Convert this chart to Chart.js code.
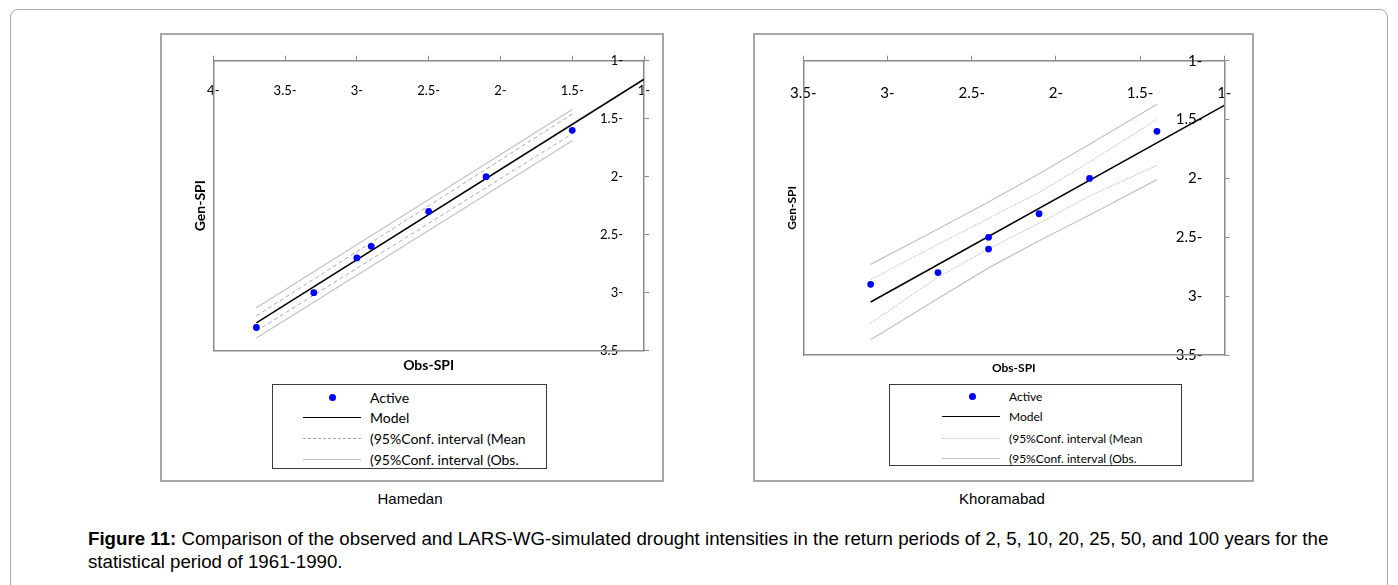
<!DOCTYPE html>
<html>
<head>
<meta charset="utf-8">
<script src="https://cdn.jsdelivr.net/npm/chart.js@4.4.1/dist/chart.umd.min.js"></script>
<style>
  html, body { margin: 0; padding: 0; background: #fff; width: 1398px; height: 585px; overflow: hidden; }
  #frame { position: absolute; left: 10px; top: 9px; width: 1378px; height: 640px; box-sizing: border-box;
           border: 1px solid #a8a8a8; border-radius: 8px; }
  .box { position: absolute; top: 33px; height: 449px; box-sizing: border-box; border: 2px solid #a6a6a6; }
  canvas { position: absolute; }
  .legend { position: absolute; box-sizing: border-box; border: 1px solid #3a3a3a; font-family: Lato, sans-serif; color: #000; }
  .legend .row { position: absolute; left: 0; right: 0; height: 0; }
  .legend .sym { position: absolute; }
  .legend .txt { position: absolute; white-space: nowrap; transform: translateY(-50%); }
  .station { position: absolute; top: 490px; font-family: "Liberation Sans", Arial, sans-serif; font-size: 15px;
             transform: translateX(-50%); white-space: nowrap; }
  #caption { position: absolute; left: 88px; top: 527px; font-family: "Liberation Sans", Arial, sans-serif;
             font-size: 18.7px; line-height: 23px; white-space: nowrap; color: #000; }
</style>
</head>
<body>
<div id="frame"></div>
<div class="box" style="left:160px; width:504px;"></div>
<div class="box" style="left:753px; width:501px;"></div>

<canvas id="hamedan" width="502" height="346" style="left:161px; top:34px;"></canvas>
<canvas id="khoramabad" width="499" height="346" style="left:754px; top:34px;"></canvas>

<div class="legend" id="legHam" style="left:272px; top:384px; width:275px; height:85px;"></div>
<div class="legend" id="legKho" style="left:889px; top:384px; width:293px; height:82px;"></div>

<div class="station" style="left:410px;">Hamedan</div>
<div class="station" style="left:1002px;">Khoramabad</div>

<div id="caption"><b>Figure 11:</b> Comparison of the observed and LARS-WG-simulated drought intensities in the return periods of 2, 5, 10, 20, 25, 50, and 100 years for the<br>statistical period of 1961-1990.</div>

<script>
// ---- data (values are negative SPI shown as "x-") ----
const legendLabels = ['Active', 'Model', '(95%Conf. interval (Mean', '(95%Conf. interval (Obs.'];

// Hamedan
const hamXTicks = [1, 1.5, 2, 2.5, 3, 3.5, 4];
const hamYTicks = [1, 1.5, 2, 2.5, 3, 3.5];
const hamObs = [3.7, 3.3, 3.0, 2.9, 2.5, 2.1, 1.5];
const hamGen = [3.3, 3.0, 2.7, 2.6, 2.3, 2.0, 1.6];
const hamModelX = [3.7, 1.0];
const hamModelY = [3.26, 1.16];
const hamBandX = [3.7, 1.5];
const hamMeanUpper = [3.20, 1.46];
const hamMeanLower = [3.33, 1.63];
const hamObsUpper = [3.13, 1.42];
const hamObsLower = [3.39, 1.69];

// Khoramabad
const khoXTicks = [1, 1.5, 2, 2.5, 3, 3.5];
const khoYTicks = [1, 1.5, 2, 2.5, 3, 3.5];
const khoObs = [3.1, 2.7, 2.4, 2.4, 2.1, 1.8, 1.4];
const khoGen = [2.9, 2.8, 2.5, 2.6, 2.3, 2.0, 1.6];
const khoModelX = [3.1, 1.0];
const khoModelY = [3.05, 1.38];
const khoBandX = [3.1, 2.7, 2.4, 2.1, 1.8, 1.4];
const khoObsUpper = [2.73, 2.43, 2.20, 1.96, 1.71, 1.37];
const khoMeanUpper = [2.86, 2.56, 2.34, 2.12, 1.86, 1.50];
const khoMeanLower = [3.23, 2.84, 2.60, 2.38, 2.15, 1.89];
const khoObsLower = [3.37, 3.02, 2.76, 2.53, 2.31, 2.01];

const AXIS = '#8a8a8a';
const pts = (xs, ys) => xs.map((x, i) => ({ x: x, y: ys[i] }));

function lineSet(label, xs, ys, color, width, dash) {
  return {
    label: label, data: pts(xs, ys), showLine: true, borderColor: color, borderWidth: width,
    borderDash: dash || [], pointRadius: 0, tension: 0, order: 2
  };
}

function makeChart(id, c) {
  const datasets = [
    { label: legendLabels[0], data: pts(c.obs, c.gen), backgroundColor: '#0000ff', borderColor: '#0000ff',
      pointRadius: 3.4, pointBorderWidth: 0, showLine: false, order: 0 },
    lineSet(legendLabels[1], c.modelX, c.modelY, '#000', 1.5),
    lineSet(legendLabels[2], c.bandX, c.meanUp, c.meanColor, 1, c.meanDash),
    lineSet(legendLabels[2], c.bandX, c.meanLo, c.meanColor, 1, c.meanDash),
    lineSet(legendLabels[3], c.bandX, c.obsUp, '#c2c2c2', 1.2),
    lineSet(legendLabels[3], c.bandX, c.obsLo, '#c2c2c2', 1.2)
  ];

  return new Chart(document.getElementById(id), {
    type: 'scatter',
    data: { datasets: datasets },
    options: {
      responsive: false,
      animation: false,
      events: [],
      layout: { padding: 0, autoPadding: false },
      plugins: { legend: { display: false }, tooltip: { enabled: false } },
      scales: {
        x: {
          type: 'linear', position: 'top', reverse: true,
          min: c.xTicks[0], max: c.xTicks[c.xTicks.length - 1],
          afterBuildTicks: s => { s.ticks = c.xTicks.map(v => ({ value: v })); },
          afterFit: s => { s.height = c.top; s.paddingLeft = 0; s.paddingRight = 0; },
          ticks: { mirror: true, padding: c.xPad, autoSkip: false, maxRotation: 0, color: '#000',
                   font: { family: 'Lato', size: c.tickSize }, callback: v => v + '-' },
          grid: { drawOnChartArea: false, tickLength: 5, color: AXIS, lineWidth: 1 },
          border: { color: AXIS, width: 1.5 }
        },
        y: {
          type: 'linear', position: 'right', reverse: true,
          min: c.yTicks[0], max: c.yTicks[c.yTicks.length - 1],
          afterBuildTicks: s => { s.ticks = c.yTicks.map(v => ({ value: v })); },
          afterFit: s => { s.width = c.right; s.paddingTop = 0; s.paddingBottom = 0; },
          // mirrored labels on a right axis sit at left + padding, so padding is negative here
          ticks: { mirror: true, padding: c.yPad, autoSkip: false, color: '#000',
                   font: { family: 'Lato', size: c.tickSize }, callback: v => v + '-' },
          grid: { drawOnChartArea: false, tickLength: 5, color: AXIS, lineWidth: 1 },
          border: { color: AXIS, width: 1.5 }
        },
        xb: {
          type: 'linear', position: 'bottom', axis: 'x',
          afterFit: s => { s.height = c.bottom; s.paddingLeft = 0; s.paddingRight = 0; },
          ticks: { display: false },
          grid: { drawOnChartArea: false, drawTicks: false },
          border: { color: AXIS, width: 1.5 },
          title: { display: true, text: 'Obs-SPI', color: '#000',
                   font: { family: 'Lato', size: c.titleSize, weight: 'bold' },
                   padding: { top: 0, bottom: c.xTitlePad } }
        },
        yl: {
          type: 'linear', position: 'left', axis: 'y',
          afterFit: s => { s.width = c.left; s.paddingTop = 0; s.paddingBottom = 0; },
          ticks: { display: false },
          grid: { drawOnChartArea: false, drawTicks: false },
          border: { color: AXIS, width: 1.5 },
          title: { display: true, text: 'Gen-SPI', color: '#000',
                   font: { family: 'Lato', size: c.yTitleSize, weight: 'bold' },
                   padding: { top: c.yTitlePad, bottom: 0 } }
        }
      }
    }
  });
}

// legend box built from the chart's own datasets
function makeLegend(id, chart, l) {
  const box = document.getElementById(id);
  const seen = [];
  chart.data.datasets.forEach(ds => {
    if (seen.some(s => s.label === ds.label)) return;
    seen.push(ds);
  });
  seen.forEach((ds, i) => {
    const row = document.createElement('div');
    row.className = 'row';
    row.style.top = l.rows[i] + 'px';
    const sym = document.createElement('div');
    sym.className = 'sym';
    if (!ds.showLine) {
      sym.style.cssText = 'left:' + (l.dotX - 3.5) + 'px; top:-3.5px; width:7px; height:7px; border-radius:50%; background:' + ds.backgroundColor;
    } else {
      const dashed = ds.borderDash && ds.borderDash.length;
      sym.style.cssText = 'left:' + l.lineX0 + 'px; width:' + (l.lineX1 - l.lineX0) + 'px; top:0px; border-top:' +
        (ds.borderWidth > 1.3 ? 1.5 : 1) + 'px ' + (dashed ? l.dashStyle : 'solid') + ' ' + ds.borderColor;
    }
    const txt = document.createElement('div');
    txt.className = 'txt';
    txt.style.left = l.textX + 'px';
    txt.style.fontSize = l.size + 'px';
    txt.textContent = ds.label;
    row.appendChild(sym);
    row.appendChild(txt);
    box.appendChild(row);
  });
}

const hamChart = makeChart('hamedan', {
  xTicks: hamXTicks, yTicks: hamYTicks, obs: hamObs, gen: hamGen,
  modelX: hamModelX, modelY: hamModelY, bandX: hamBandX,
  meanUp: hamMeanUpper, meanLo: hamMeanLower, obsUp: hamObsUpper, obsLo: hamObsLower,
  meanColor: '#a9a9a9', meanDash: [4, 3],
  left: 52.3, right: 19, top: 26.7, bottom: 29.3,
  xPad: 22, yPad: -21, tickSize: 13, titleSize: 14, yTitleSize: 14, xTitlePad: 6.6, yTitlePad: 31
});

const khoChart = makeChart('khoramabad', {
  xTicks: khoXTicks, yTicks: khoYTicks, obs: khoObs, gen: khoGen,
  modelX: khoModelX, modelY: khoModelY, bandX: khoBandX,
  meanUp: khoMeanUpper, meanLo: khoMeanLower, obsUp: khoObsUpper, obsLo: khoObsLower,
  meanColor: '#c4c4c4', meanDash: [2, 1],
  left: 49.3, right: 28.7, top: 26.7, bottom: 25,
  xPad: 23, yPad: -22, tickSize: 15, titleSize: 12, yTitleSize: 12, xTitlePad: 4.5, yTitlePad: 30.5
});

makeLegend('legHam', hamChart, { rows: [12, 32, 52.5, 74], dotX: 59.7, lineX0: 29.7, lineX1: 88, textX: 97, size: 14, dashStyle: 'dashed' });
makeLegend('legKho', khoChart, { rows: [11, 31, 52.5, 72.5], dotX: 82.7, lineX0: 52, lineX1: 110, textX: 119, size: 12, dashStyle: 'dotted' });
</script>
</body>
</html>
